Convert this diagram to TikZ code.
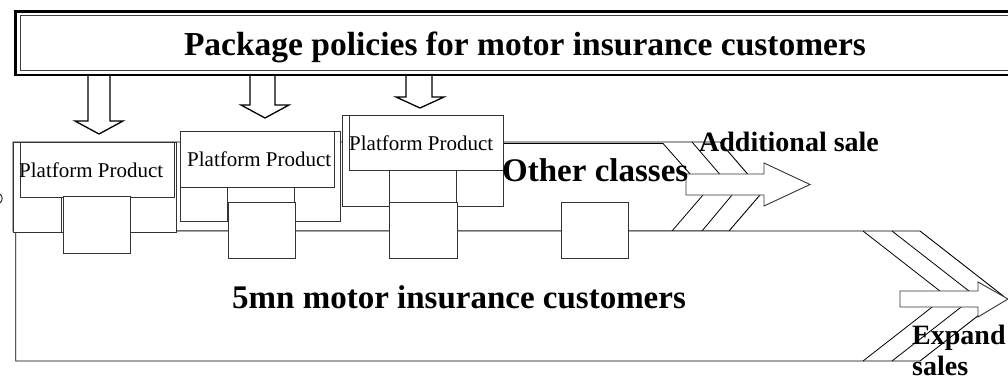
\documentclass[tikz,border=0pt]{standalone}
\usepackage{fontspec}
\setmainfont{Liberation Serif}
\begin{document}
\begin{tikzpicture}[x=1pt,y=-1pt]
\tikzset{
  edge/.style={draw=black!80, line width=0.9pt, fill=white},
  band/.style={draw=black, line width=0.9pt, fill=white, line join=miter},
  stripe/.style={draw=black, line width=0.8pt},
  blockarr/.style={draw=black, line width=1.3pt, fill=white, line join=miter},
  prodtext/.style={font=\fontsize{21}{25}\selectfont, inner sep=0pt, anchor=base west},
  bigtext/.style={font=\fontsize{33}{38}\selectfont\bfseries, inner sep=0pt, anchor=base west},
  sidetext/.style={font=\fontsize{28}{32}\selectfont\bfseries, inner sep=0pt, anchor=base west},
}
\useasboundingbox (0,0) rectangle (1008,380);

% small mark at the left edge
\draw[line width=0.8pt] (0,194) .. controls (3,197) and (3,200) .. (0,203);

% upper band: other classes, with its striped point
\draw[band] (13,142) -- (720,142) -- (762.8,191.7) -- (729,231) -- (13,231) -- cycle;
\draw[stripe] (503,143.5) -- (663,143.5) -- (705.8,191.7) -- (672,231);
\draw[stripe] (692,142) -- (734.8,191.7) -- (702,231);

% lower band: motor insurance customers, with its striped point
\draw[band] (15.7,231) -- (920,231) -- (1003.3,296) -- (920,361) -- (15.7,361) -- cycle;
\draw[stripe] (863,231) -- (946.3,296) -- (863,361);
\draw[stripe] (892,231) -- (975.3,296) -- (892,361);

% first platform product group
\draw[edge] (13,142) rectangle (176,232);
\draw[edge] (20,142) rectangle (174,197);
\draw[edge] (61,197) rectangle (128,232);
\draw[edge] (63,196) rectangle (130,253);

% second platform product group
\draw[edge] (180,131) rectangle (340,221);
\draw[edge] (180,131) rectangle (334,187);
\draw[edge] (227,187) rectangle (294,221);
\draw[edge] (228,202) rectangle (295,258);

% third platform product group
\draw[edge] (342,115) rectangle (503,206);
\draw[edge] (349,115) rectangle (503,170);
\draw[edge] (389,170) rectangle (456,206);
\draw[edge] (389,202) rectangle (457,258);

% box on the other-classes line
\draw[edge] (561,202) rectangle (628,258);

% downward block arrows from the package box
\draw[blockarr] (88,75) -- (110,75) -- (110,121) -- (123,121) -- (99,134) -- (75,121) -- (88,121) -- cycle;
\draw[blockarr] (250,75) -- (275,75) -- (275,105) -- (289,105) -- (265,118) -- (241,105) -- (250,105) -- cycle;
\draw[blockarr] (406,75) -- (432,75) -- (432,97) -- (444,97) -- (420,108) -- (396,97) -- (406,97) -- cycle;

% right block arrows
\draw[edge] (686,174) -- (764,174) -- (764,163) -- (810,184.5) -- (764,206) -- (764,195) -- (686,195) -- cycle;
\draw[edge] (900,291) -- (978,291) -- (978,282) -- (1008,299) -- (978,317) -- (978,307) -- (900,307) -- cycle;

% package box with double frame
\draw[draw=black, line width=2.5pt, fill=white] (15.5,11.5) rectangle (1015,75);
\draw[draw=black!75, line width=1.3pt] (20.5,15.5) rectangle (1015,70.5);
\node[font=\fontsize{33.5}{40}\selectfont\bfseries, inner sep=0pt, anchor=base] (title) at (525,55) {Package policies for motor insurance customers};

% labels
\node[prodtext] (pp1) at (19,177.7) {Platform Product};
\node[prodtext] (pp2) at (187,166) {Platform Product};
\node[prodtext] (pp3) at (349,150) {Platform Product};
\node[bigtext] (other) at (502,181) {Other classes};
\node[bigtext] (motor) at (232,308) {5mn motor insurance customers};
\node[sidetext] (addsale) at (699,151) {Additional sale};
\node[sidetext] (expand) at (912,344) {Expand};
\node[sidetext] (sales) at (912,375) {sales};
\end{tikzpicture}
\end{document}
